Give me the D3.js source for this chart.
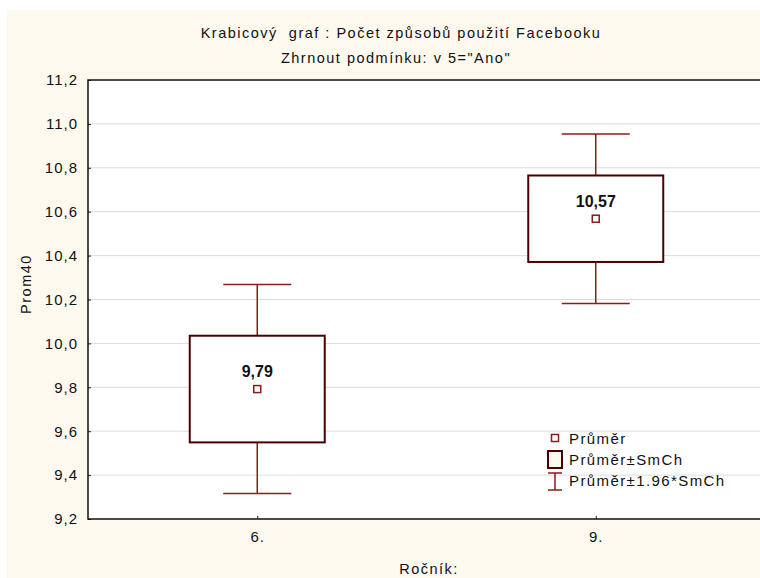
<!DOCTYPE html>
<html>
<head>
<meta charset="utf-8">
<script src="https://cdn.jsdelivr.net/npm/d3@7"></script>
<style>
    body { margin: 0; background: #fff; }
    svg { display: block; font-family: "Liberation Sans", Arial, sans-serif; }
    .grid line { stroke: #dcdcdc; stroke-width: 1; }
    .tick-label { font-size: 15px; fill: #111; letter-spacing: 1px; }
    .title { font-size: 14.5px; fill: #111; letter-spacing: 1.5px; }
    .legend-text { font-size: 15px; fill: #111; letter-spacing: 1.4px; }
    .mean-label { font-size: 16px; font-weight: bold; fill: #111; }
</style>
</head>
<body>
<svg class="js-chart"></svg>
<script>
(() => {
    // Ročník categories
    const categories = ['6.', '9.'];
    // mean of Prom40 and its standard error (SmCh)
    const means = [9.792, 10.568];
    const stdErrors = [0.243, 0.197];
    const meanLabels = ['9,79', '10,57'];
    const yTicks = [9.2, 9.4, 9.6, 9.8, 10.0, 10.2, 10.4, 10.6, 10.8, 11.0, 11.2];
    const legendLabels = ['Průměr', 'Průměr±SmCh', 'Průměr±1.96*SmCh'];

    const svgWidth = 760;
    const svgHeight = 578;
    const margin = {top: 80, right: -5, bottom: 59, left: 88};
    const width = svgWidth - margin.left - margin.right;
    const height = svgHeight - margin.top - margin.bottom;

    const boxColor = '#4a0000';
    const whiskerColor = '#8b1c1c';

    const svg = d3.select('.js-chart')
        .attr('width', svgWidth)
        .attr('height', svgHeight);

    // outer background
    svg.append('rect')
        .attr('x', 7).attr('y', 10)
        .attr('width', svgWidth - 7).attr('height', svgHeight - 10)
        .attr('fill', '#fdf9ef');

    const g = svg.append('g')
        .attr('transform', `translate(${margin.left},${margin.top})`);

    const x = d3.scalePoint()
        .domain(categories)
        .range([0, width])
        .padding(0.5);

    const y = d3.scaleLinear()
        .domain([9.2, 11.2])
        .range([height, 0]);

    g.append('rect')
        .attr('width', width).attr('height', height)
        .attr('fill', '#fff');

    // grid
    g.append('g')
        .attr('class', 'grid')
        .selectAll('line')
        .data(yTicks.slice(1, -1))
        .enter().append('line')
        .attr('x1', 0).attr('x2', width)
        .attr('y1', d => y(d)).attr('y2', d => y(d));

    const fmt = d => d3.format('.1f')(d).replace('.', ',');

    const yAxis = d3.axisLeft(y)
        .tickValues(yTicks)
        .tickSize(-3)
        .tickPadding(10)
        .tickFormat(fmt);

    const xAxis = d3.axisBottom(x)
        .tickSize(-3)
        .tickPadding(10);

    const ya = g.append('g').call(yAxis);
    ya.select('.domain').remove();
    ya.selectAll('.tick line').attr('stroke', '#222');
    ya.selectAll('.tick text').attr('class', 'tick-label').attr('font-size', null).attr('font-family', null).attr('fill', null);

    const xa = g.append('g').attr('transform', `translate(0,${height})`).call(xAxis);
    xa.select('.domain').remove();
    xa.selectAll('.tick line').attr('stroke', '#222');
    xa.selectAll('.tick text').attr('class', 'tick-label').attr('font-size', null).attr('font-family', null).attr('fill', null)
        .attr('dy', '0.85em');

    // frame: left, top, bottom
    g.append('path')
        .attr('d', `M${width},0H0V${height}H${width}`)
        .attr('fill', 'none')
        .attr('stroke', '#111')
        .attr('stroke-width', 1.5);

    const boxW = 135;
    const capW = 68;

    const items = categories.map((c, i) => ({
        cat: c, mean: means[i], se: stdErrors[i], label: meanLabels[i]
    }));

    const grp = g.selectAll('.box')
        .data(items)
        .enter().append('g')
        .attr('class', 'box')
        .attr('transform', d => `translate(${x(d.cat)},0)`);

    // whiskers ±1.96*SE
    grp.append('line')
        .attr('x1', 0).attr('x2', 0)
        .attr('y1', d => y(d.mean + 1.96 * d.se))
        .attr('y2', d => y(d.mean - 1.96 * d.se))
        .attr('stroke', whiskerColor).attr('stroke-width', 1.5);
    [1, -1].forEach(s => {
        grp.append('line')
            .attr('x1', -capW / 2).attr('x2', capW / 2)
            .attr('y1', d => y(d.mean + s * 1.96 * d.se))
            .attr('y2', d => y(d.mean + s * 1.96 * d.se))
            .attr('stroke', whiskerColor).attr('stroke-width', 1.5);
    });

    // box ±SE
    grp.append('rect')
        .attr('x', -boxW / 2)
        .attr('width', boxW)
        .attr('y', d => y(d.mean + d.se))
        .attr('height', d => y(d.mean - d.se) - y(d.mean + d.se))
        .attr('fill', '#fff')
        .attr('stroke', boxColor).attr('stroke-width', 2);

    // mean marker
    grp.append('rect')
        .attr('x', -3.5).attr('width', 7)
        .attr('y', d => y(d.mean) - 3.5).attr('height', 7)
        .attr('fill', '#fff')
        .attr('stroke', whiskerColor).attr('stroke-width', 1.5);

    grp.append('text')
        .attr('class', 'mean-label')
        .attr('text-anchor', 'middle')
        .attr('y', d => y(d.mean) - 12)
        .text(d => d.label);

    // legend
    const lg = svg.append('g').attr('transform', 'translate(555,438)');
    lg.append('rect')
        .attr('x', -3.5).attr('y', -3.5).attr('width', 7).attr('height', 7)
        .attr('fill', '#fff').attr('stroke', whiskerColor).attr('stroke-width', 1.5);
    lg.append('rect')
        .attr('x', -7).attr('y', 13).attr('width', 14).attr('height', 17)
        .attr('fill', '#fdf9ef').attr('stroke', boxColor).attr('stroke-width', 2);
    lg.append('path')
        .attr('d', 'M-7,35H7M0,35V52M-7,52H7')
        .attr('fill', 'none').attr('stroke', whiskerColor).attr('stroke-width', 1.5);
    lg.selectAll('.legend-text')
        .data(legendLabels)
        .enter().append('text')
        .attr('class', 'legend-text')
        .attr('x', 14)
        .attr('y', (d, i) => 6 + i * 21)
        .text(d => d);

    // titles
    svg.append('text').attr('class', 'title')
        .attr('x', 401).attr('y', 38).attr('text-anchor', 'middle')
        .text('Krabicový  graf : Počet způsobů použití Facebooku')
        .style('white-space', 'pre');
    svg.append('text').attr('class', 'title')
        .attr('x', 396).attr('y', 63).attr('text-anchor', 'middle')
        .text('Zhrnout podmínku: v 5="Ano"');

    // axis labels
    svg.append('text').attr('class', 'title')
        .attr('transform', 'translate(31,284) rotate(-90)')
        .attr('text-anchor', 'middle')
        .text('Prom40');
    svg.append('text').attr('class', 'title')
        .attr('x', 429).attr('y', 574).attr('text-anchor', 'middle')
        .text('Ročník:');
})();
</script>
</body>
</html>
